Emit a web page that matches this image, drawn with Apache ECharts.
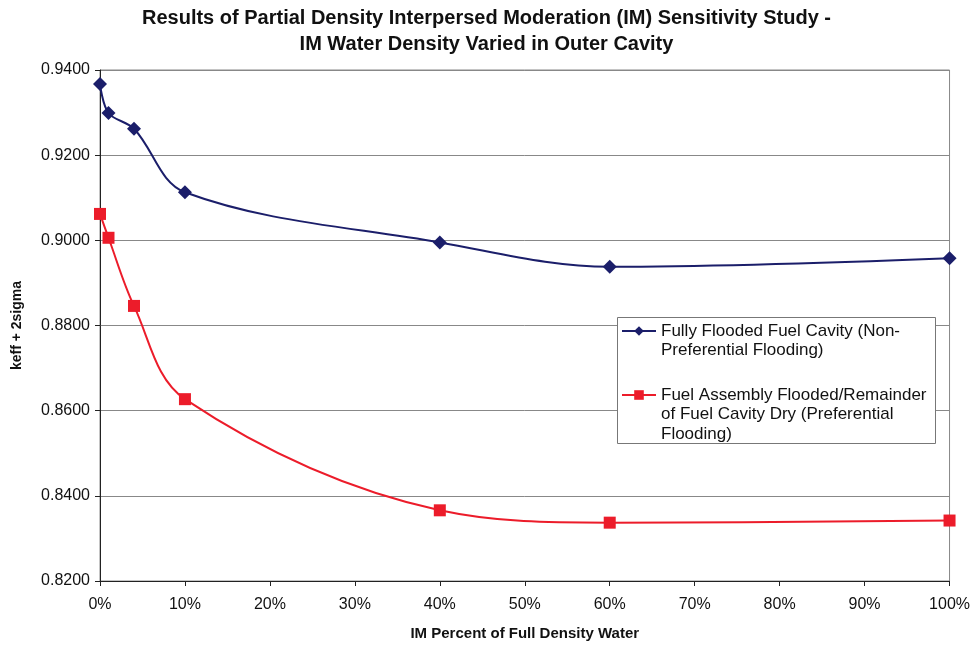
<!DOCTYPE html>
<html>
<head>
<meta charset="utf-8">
<script src="https://cdn.jsdelivr.net/npm/echarts@6/dist/echarts.min.js"></script>
<style>
html,body{margin:0;padding:0;background:#fff;}
#chart{width:973px;height:646px;}
</style>
</head>
<body>
<div id="chart"></div>
<script>
const titleLines = ['Results of Partial Density Interpersed Moderation (IM) Sensitivity Study -', 'IM Water Density Varied in Outer Cavity'];
const xName = 'IM Percent of Full Density Water';
const yName = 'keff + 2sigma';
const xValues = [0, 1, 4, 10, 40, 60, 100];
const seriesNames = ['Fully Flooded Fuel Cavity (Non-Preferential Flooding)', 'Fuel Assembly Flooded/Remainder of Fuel Cavity Dry (Preferential Flooding)'];
const legendLines = [
  ['Fully Flooded Fuel Cavity (Non-', 'Preferential Flooding)'],
  ['Fuel Assembly Flooded/Remainder', 'of Fuel Cavity Dry (Preferential', 'Flooding)']
];
const fullyFlooded = [0.9367, 0.9299, 0.9262, 0.9113, 0.8995, 0.8938, 0.8958];
const preferential = [0.9062, 0.9006, 0.8846, 0.8627, 0.8366, 0.8337, 0.8342];

const pair = (xs, ys) => xs.map((x, i) => [x, ys[i]]);
const font = 'Liberation Sans, Arial, sans-serif';
const LH = 19.5;
// blank lines above the text keep the legend icon level with the first text line
const legendText = idx => {
  const lines = legendLines[idx];
  return Array(lines.length - 1).fill(' ').concat(lines).join('\n');
};
const legendCommon = {
  orient: 'vertical',
  left: 621,
  padding: 0,
  itemWidth: 34, itemHeight: 12,
  formatter: name => legendText(seriesNames.indexOf(name)),
  textStyle: {fontFamily: font, fontSize: 17, lineHeight: LH, color: '#111'},
  z: 5
};
const chart = echarts.init(document.getElementById('chart'), null, {renderer: 'canvas'});
chart.setOption({
  animation: false,
  backgroundColor: '#fff',
  title: {
    text: titleLines.join('\n'),
    left: 'center', top: 0,
    textStyle: {fontFamily: font, fontWeight: 'bold', fontSize: 20, lineHeight: 26, color: '#111'}
  },
  grid: {left: 100, right: 23, top: 70, bottom: 64, show: true, borderColor: '#888', borderWidth: 1},
  graphic: [{
    type: 'rect', left: 617, top: 317, z: 3,
    shape: {width: 318, height: 126},
    style: {fill: '#fff', stroke: '#777', lineWidth: 1}
  }],
  legend: [
    Object.assign({}, legendCommon, {top: 331 - (LH * 2 * legendLines[0].length - LH) / 2, data: [seriesNames[0]]}),
    Object.assign({}, legendCommon, {top: 395 - (LH * 2 * legendLines[1].length - LH) / 2, data: [seriesNames[1]]})
  ],
  xAxis: {
    type: 'value', min: 0, max: 100, interval: 10,
    name: xName, nameLocation: 'middle', nameGap: 45,
    nameTextStyle: {fontFamily: font, fontWeight: 'bold', fontSize: 15, color: '#111'},
    axisLine: {show: true, lineStyle: {color: '#222', width: 1}},
    axisTick: {show: true, length: 5, lineStyle: {color: '#222'}},
    axisLabel: {formatter: '{value}%', fontFamily: font, fontSize: 16, color: '#111', margin: 16},
    splitLine: {show: false}
  },
  yAxis: {
    type: 'value', min: 0.82, max: 0.94, interval: 0.02,
    name: yName, nameLocation: 'middle', nameGap: 76,
    nameTextStyle: {fontFamily: font, fontWeight: 'bold', fontSize: 14, color: '#111'},
    axisLine: {show: true, lineStyle: {color: '#222', width: 1}},
    axisTick: {show: true, length: 5, lineStyle: {color: '#222'}},
    axisLabel: {formatter: v => v.toFixed(4), fontFamily: font, fontSize: 16, color: '#111', margin: 10},
    splitLine: {show: true, lineStyle: {color: '#888', width: 1}}
  },
  series: [
    {
      name: seriesNames[0], type: 'line', smooth: 0.35,
      data: pair(xValues, fullyFlooded),
      symbol: 'diamond', symbolSize: 14,
      lineStyle: {color: '#1b1e6a', width: 2},
      itemStyle: {color: '#1b1e6a'}
    },
    {
      name: seriesNames[1], type: 'line', smooth: 0.35,
      data: pair(xValues, preferential),
      symbol: 'rect', symbolSize: 12,
      lineStyle: {color: '#ec1c2a', width: 2},
      itemStyle: {color: '#ec1c2a'}
    }
  ]
});
</script>
</body>
</html>
